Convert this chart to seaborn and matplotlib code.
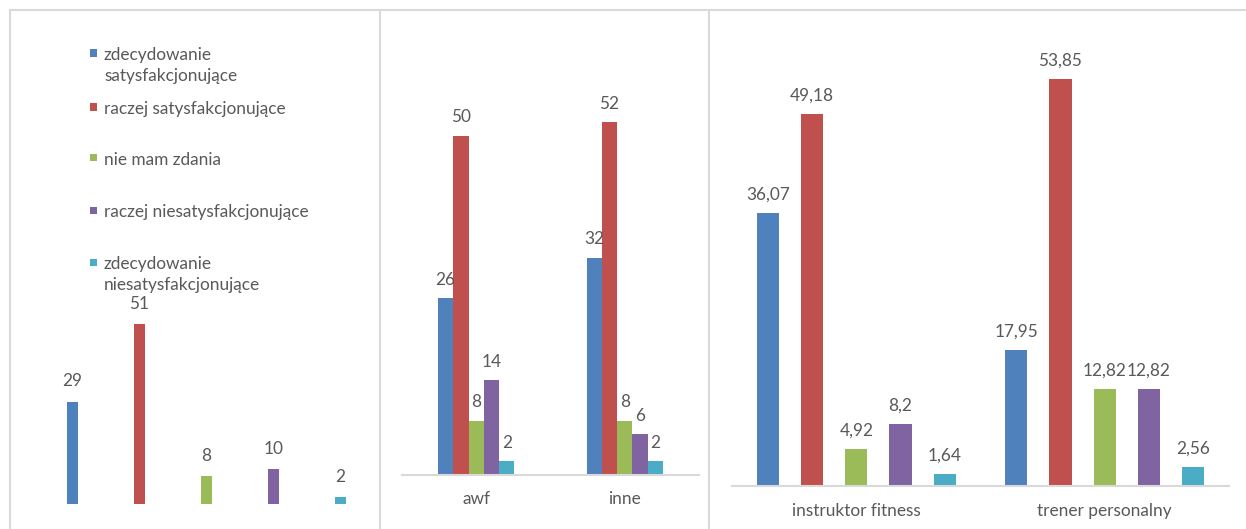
import matplotlib
matplotlib.use("Agg")
import matplotlib.pyplot as plt
import seaborn as sns
import pandas as pd
from matplotlib.lines import Line2D
from matplotlib.patches import Rectangle

# Answer categories (series) and their colours
opinions = [
    "zdecydowanie satysfakcjonujące",
    "raczej satysfakcjonujące",
    "nie mam zdania",
    "raczej niesatysfakcjonujące",
    "zdecydowanie niesatysfakcjonujące",
]
legend_labels = [
    "zdecydowanie\nsatysfakcjonujące",
    "raczej satysfakcjonujące",
    "nie mam zdania",
    "raczej niesatysfakcjonujące",
    "zdecydowanie\nniesatysfakcjonujące",
]
colors = ["#4F81BD", "#C0504D", "#9BBB59", "#8064A2", "#4BACC6"]

# Overall answers
overall = [29, 51, 8, 10, 2]

# Answers by education
education_groups = ["awf", "inne"]
awf = [26, 50, 8, 14, 2]
inne = [32, 52, 8, 6, 2]

# Answers by role
role_groups = ["instruktor fitness", "trener personalny"]
instruktor = [36.07, 49.18, 4.92, 8.2, 1.64]
trener = [17.95, 53.85, 12.82, 12.82, 2.56]

TEXT = "#595959"
GRID = "#D9D9D9"
W, H = 1246, 529

sns.set_style("white")
plt.rcParams["font.family"] = ["Lato", "DejaVu Sans"]
FS = 12.4


def fmt(v):
    return f"{v:g}".replace(".", ",")


def long_frame(groups, series):
    rows = []
    for g, vals in zip(groups, series):
        for o, v in zip(opinions, vals):
            rows.append({"group": g, "opinion": o, "value": v})
    return pd.DataFrame(rows)


fig = plt.figure(figsize=(W / 100, H / 100), dpi=100)


def px_axes(left, right, top, bottom):
    return fig.add_axes([left / W, 1 - bottom / H, (right - left) / W, (bottom - top) / H])


def label_bars(ax, pad):
    for c in ax.containers:
        ax.bar_label(c, labels=[fmt(v) for v in c.datavalues], padding=pad,
                     color=TEXT, fontsize=FS)


# --- panel 1: overall ---
ax1 = px_axes(39, 374, 292.5, 504.3)
sns.barplot(x=opinions, y=overall, hue=opinions, hue_order=opinions, order=opinions,
            palette=colors, width=0.175, saturation=1, linewidth=0, legend=False, ax=ax1)
ax1.set_ylim(0, 60)
ax1.set_xlim(-0.5, 4.5)
ax1.axis("off")
label_bars(ax1, 9)

# --- panel 2: by education ---
ax2 = px_axes(402, 699, 67.6, 475)
sns.barplot(data=long_frame(education_groups, [awf, inne]), x="group", y="value",
            hue="opinion", hue_order=opinions, palette=colors, width=0.515,
            saturation=1, linewidth=0, legend=False, ax=ax2)

# --- panel 3: by role ---
ax3 = px_axes(732, 1229, 32.4, 486)
sns.barplot(data=long_frame(role_groups, [instruktor, trener]), x="group", y="value",
            hue="opinion", hue_order=opinions, palette=colors, width=0.89, gap=0.5,
            saturation=1, linewidth=0, legend=False, ax=ax3)

for ax, pad in ((ax2, 11.5), (ax3, 12.5)):
    ax.set_ylim(0, 60)
    ax.set_xlim(-0.5, 1.5)
    ax.set_xlabel("")
    ax.set_ylabel("")
    ax.set_yticks([])
    for s in ("top", "left", "right"):
        ax.spines[s].set_visible(False)
    ax.spines["bottom"].set_color(GRID)
    ax.spines["bottom"].set_linewidth(1.5)
    ax.tick_params(axis="x", length=0, pad=pad, labelsize=FS, labelcolor=TEXT)
    ax.patch.set_alpha(0)
    label_bars(ax, 7.5)

# --- legend of the overall panel ---
legend_y = [53, 107, 158, 210, 262]
for lab, col, y in zip(legend_labels, colors, legend_y):
    fig.add_artist(Rectangle((90 / W, 1 - (y + 3.5) / H), 7 / W, 7 / H,
                             transform=fig.transFigure, facecolor=col, edgecolor="none"))
    fig.text(104 / W, 1 - (y - 6) / H, lab, va="top", ha="left", fontsize=FS,
             color=TEXT, linespacing=1.42)

# --- panel frames ---
def fig_line(x0, y0, x1, y1):
    fig.add_artist(Line2D([x0 / W, x1 / W], [1 - y0 / H, 1 - y1 / H],
                          transform=fig.transFigure, color=GRID, linewidth=1.5))

fig_line(10, 10, W, 10)
for x in (10, 380, 709):
    fig_line(x, 10, x, H)

fig.savefig("out.png", dpi=100, facecolor="white")
